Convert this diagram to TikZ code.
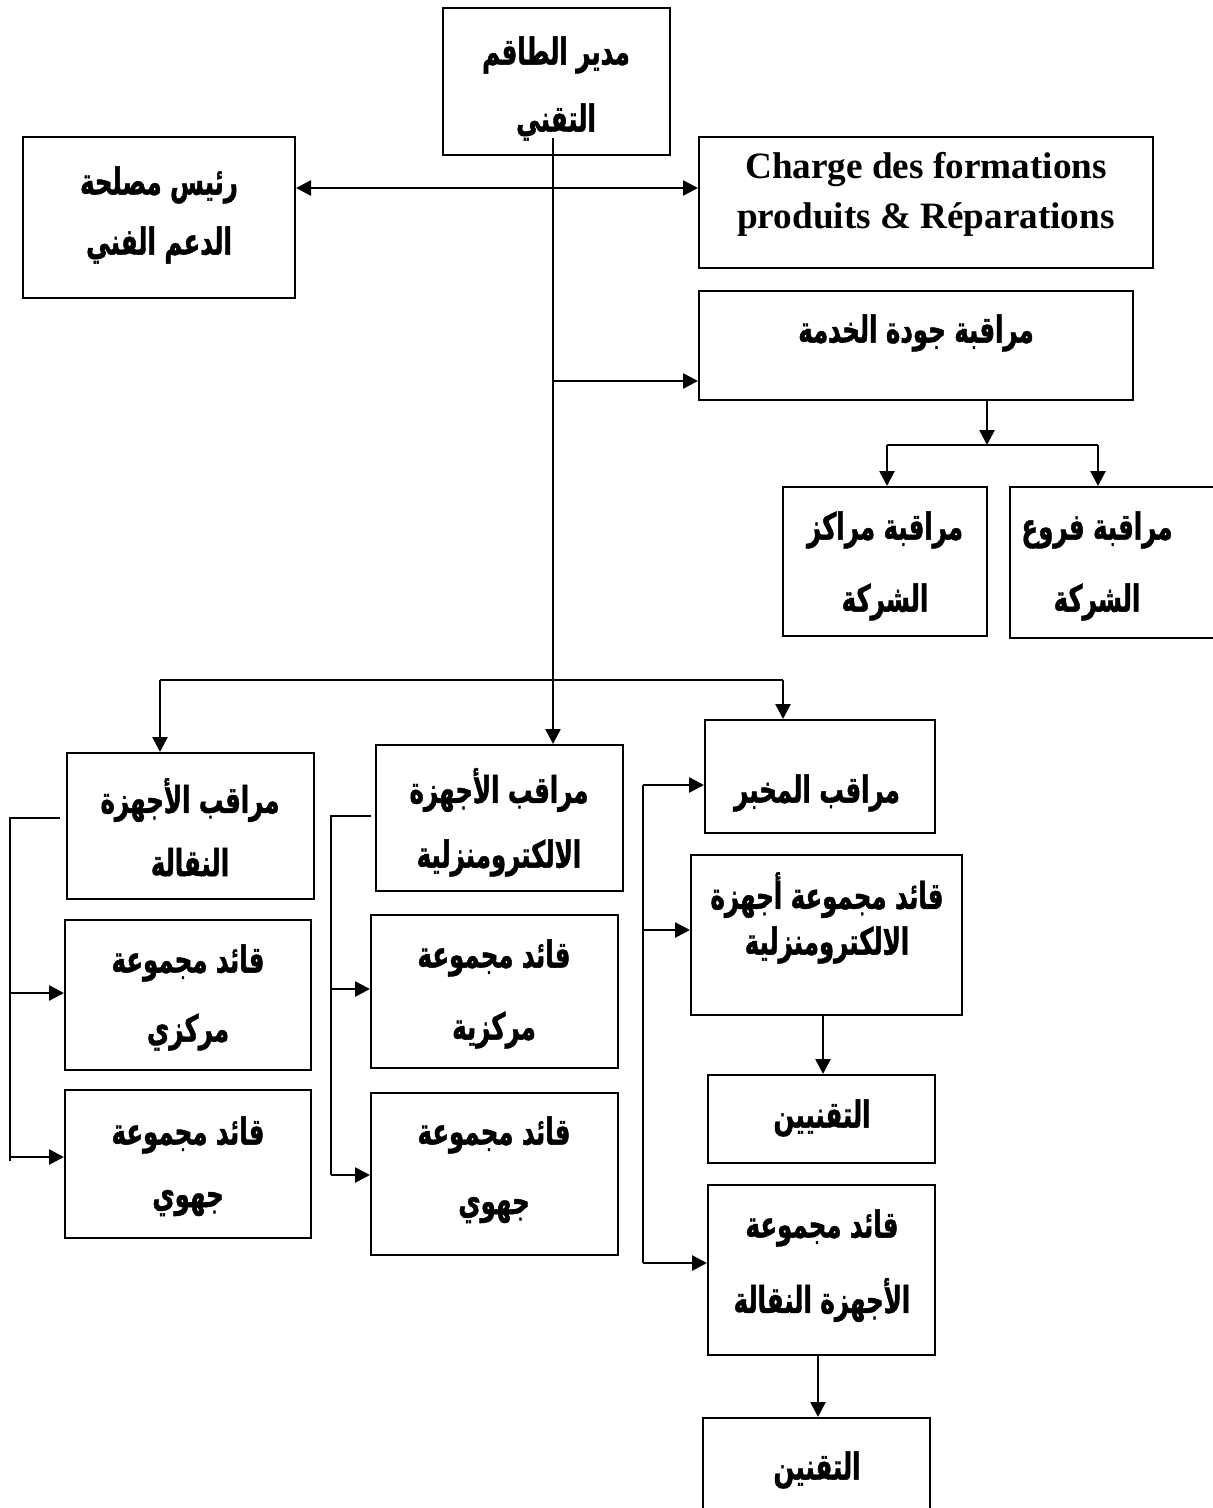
\documentclass[tikz,border=0pt]{standalone}
\usepackage{fontspec}
\setmainfont{Liberation Serif}
\newfontfamily\arabicfont[Script=Arabic,FakeStretch=0.66,FakeBold=1.2]{DejaVu Sans}
\TeXXeTstate=1
\usetikzlibrary{arrows.meta,fit}

\tikzset{
  box/.style={draw, line width=1pt, inner sep=0pt},
  link/.style={line width=1.3pt},
  arr/.style={link, -{Triangle[length=7.5pt,width=7.5pt]}},
  dbl/.style={link, {Triangle[length=7.5pt,width=7.5pt]}-{Triangle[length=7.5pt,width=7.5pt]}},
  ar/.style={font=\arabicfont\bfseries\fontsize{18.5}{21}\selectfont, inner sep=0pt},
  lat/.style={font=\bfseries\fontsize{18.6}{22}\selectfont, inner sep=0pt}
}
% a rectangle given by its corners: name, x1, y1, x2, y2
\newcommand\boxat[5]{\node[box, fit={(#2,#3) (#4,#5)}] (#1) {};}

\begin{document}
\begin{tikzpicture}[x=0.5pt,y=-0.5pt]
\useasboundingbox (0,0) rectangle (1212,1508);

% ---- boxes ----
\boxat{T}{443}{8}{670}{155}
\boxat{L}{23}{137}{295}{298}
\boxat{C}{699}{137}{1153}{268}
\boxat{Q}{699}{291}{1133}{400}
\boxat{M1}{783}{487}{987}{636}
\boxat{M2}{1010}{487}{1214}{638}
\boxat{A1}{67}{753}{314}{899}
\boxat{B1}{65}{920}{311}{1070}
\boxat{B2}{65}{1090}{311}{1238}
\boxat{A2}{376}{745}{623}{891}
\boxat{B3}{371}{915}{618}{1068}
\boxat{B4}{371}{1093}{618}{1255}
\boxat{L1}{705}{720}{935}{833}
\boxat{L2}{691}{855}{962}{1015}
\boxat{L3}{708}{1075}{935}{1163}
\boxat{L4}{708}{1185}{935}{1355}
\boxat{L5}{703}{1418}{930}{1512}

% ---- texts ----
\node[ar] (tT1) at (556,55) {\beginR مدير الطاقم\endR};
\node[ar] (tT2) at (556,122) {\beginR التقني\endR};
\node[ar] (tL1) at (159,185) {\beginR رئيس مصلحة\endR};
\node[ar] (tL2) at (159,245) {\beginR الدعم الفني\endR};
\node[lat] (tC1) at (926,170) {Charge des formations};
\node[lat] (tC2) at (926,220) {produits \& Réparations};
\node[ar] (tQ) at (916,333) {\beginR مراقبة جودة الخدمة\endR};
\node[ar] (tM11) at (885,530) {\beginR مراقبة مراكز\endR};
\node[ar] (tM12) at (885,602) {\beginR الشركة\endR};
\node[ar] (tM21) at (1097,530) {\beginR مراقبة فروع\endR};
\node[ar] (tM22) at (1097,602) {\beginR الشركة\endR};
\node[ar] (tA11) at (190,800) {\beginR مراقب الأجهزة\endR};
\node[ar] (tA12) at (190,862) {\beginR النقالة\endR};
\node[ar] (tB11) at (188,963) {\beginR قائد مجموعة\endR};
\node[ar] (tB12) at (188,1032) {\beginR مركزي\endR};
\node[ar] (tB21) at (188,1135) {\beginR قائد مجموعة\endR};
\node[ar] (tB22) at (188,1203) {\beginR جهوي\endR};
\node[ar] (tA21) at (499,790) {\beginR مراقب الأجهزة\endR};
\node[ar] (tA22) at (499,858) {\beginR الالكترومنزلية\endR};
\node[ar] (tB31) at (494,958) {\beginR قائد مجموعة\endR};
\node[ar] (tB32) at (494,1030) {\beginR مركزية\endR};
\node[ar] (tB41) at (494,1135) {\beginR قائد مجموعة\endR};
\node[ar] (tB42) at (494,1210) {\beginR جهوي\endR};
\node[ar] (tL11) at (817,793) {\beginR مراقب المخبر\endR};
\node[ar] (tL21) at (827,895) {\beginR قائد مجموعة أجهزة\endR};
\node[ar] (tL22) at (827,945) {\beginR الالكترومنزلية\endR};
\node[ar] (tL31) at (822,1118) {\beginR التقنيين\endR};
\node[ar] (tL41) at (822,1228) {\beginR قائد مجموعة\endR};
\node[ar] (tL42) at (822,1300) {\beginR الأجهزة النقالة\endR};
\node[ar] (tL51) at (817,1470) {\beginR التقنين\endR};

% ---- connectors ----
% main trunk and side links
\coordinate (trTop) at (553,138);
\coordinate (dJ) at (553,188);
\coordinate (qJ) at (553,381);
\draw[dbl] (dJ -| L.east) -- (dJ -| C.west);
\draw[arr] (trTop) -- (trTop |- A2.north);
\draw[arr] (qJ) -- (qJ -| Q.west);

% quality control split
\coordinate (qD) at (987,445);
\coordinate (qL) at (887,445);
\coordinate (qR) at (1098,445);
\draw[arr] (qD |- Q.south) -- (qD);
\draw[link] (qL) -- (qR);
\draw[arr] (qL) -- (qL |- M1.north);
\draw[arr] (qR) -- (qR |- M2.north);

% lower bus
\coordinate (busL) at (160,680);
\coordinate (busR) at (783,680);
\draw[link] (busL) -- (busR);
\draw[arr] (busL) -- (busL |- A1.north);
\draw[arr] (busR) -- (busR |- L1.north);

% left bracket
\coordinate (lbS) at (60,818);
\coordinate (lbT) at (10,818);
\coordinate (lb1) at (10,993);
\coordinate (lb2) at (10,1157);
\coordinate (lbE) at (10,1161);
\draw[link] (lbS) -- (lbT) -- (lbE);
\draw[arr] (lb1) -- (lb1 -| B1.west);
\draw[arr] (lb2) -- (lb2 -| B2.west);

% middle bracket
\coordinate (mbS) at (371,816);
\coordinate (mbT) at (331,816);
\coordinate (mb1) at (331,989);
\coordinate (mb2) at (331,1175);
\draw[link] (mbS) -- (mbT) -- (mb2);
\draw[arr] (mb1) -- (mb1 -| B3.west);
\draw[arr] (mb2) -- (mb2 -| B4.west);

% right bracket
\coordinate (rb1) at (643,785);
\coordinate (rb2) at (643,930);
\coordinate (rb3) at (643,1263);
\draw[link] (rb1) -- (rb3);
\draw[arr] (rb1) -- (rb1 -| L1.west);
\draw[arr] (rb2) -- (rb2 -| L2.west);
\draw[arr] (rb3) -- (rb3 -| L4.west);

% chains under the right column
\coordinate (c23) at (823,0);
\coordinate (c45) at (818,0);
\draw[arr] (c23 |- L2.south) -- (c23 |- L3.north);
\draw[arr] (c45 |- L4.south) -- (c45 |- L5.north);
\end{tikzpicture}
\end{document}
